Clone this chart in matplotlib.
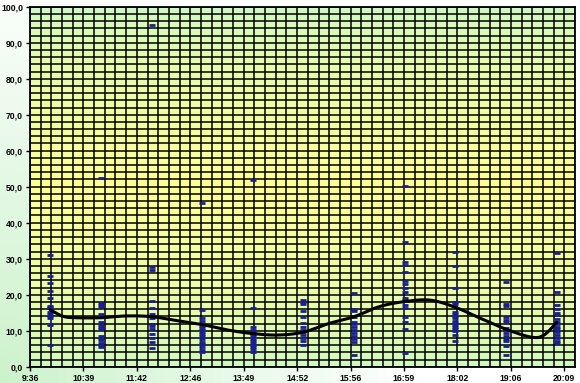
import numpy as np
import matplotlib
matplotlib.use("Agg")
import matplotlib.pyplot as plt
from matplotlib.ticker import MultipleLocator, FixedLocator, FuncFormatter

# hourly sample times (minutes after midnight) and the readings at each hour
hours = [10, 11, 12, 13, 14, 15, 16, 17, 18, 19, 20]
readings = [
    [31.0, 25.2, 23.2, 20.9, 19.2, 17.0, 16.6, 16.2, 15.2, 14.6, 14.0, 13.5, 12.0, 11.7, 5.9],
    [52.4, 17.8, 17.2, 16.6, 14.6, 12.3, 11.7, 11.0, 10.4, 8.5, 7.9, 7.3, 6.7, 6.1, 5.6],
    [95.0, 27.8, 26.8, 18.3, 16.2, 14.6, 14.0, 13.4, 11.9, 11.2, 10.6, 9.2, 8.0, 6.8, 5.2],
    [45.4, 15.8, 13.4, 12.6, 11.4, 10.8, 10.2, 9.6, 9.0, 8.4, 7.8, 7.0, 6.2, 5.4, 4.6, 4.0],
    [51.9, 16.2, 11.0, 10.2, 9.6, 9.0, 8.4, 7.8, 7.2, 6.6, 6.0, 5.4, 4.8, 4.2],
    [18.6, 18.0, 17.3, 15.5, 13.8, 12.2, 10.9, 10.3, 9.6, 8.8, 8.0, 7.2, 6.0],
    [20.4, 16.0, 15.4, 13.9, 12.4, 11.8, 11.0, 10.2, 9.4, 8.6, 7.8, 7.0, 3.3],
    [50.2, 34.7, 29.2, 28.2, 26.4, 23.8, 23.0, 21.8, 20.8, 19.0, 18.4, 17.1, 16.4, 13.7, 12.5, 10.4, 3.7],
    [31.8, 27.9, 21.8, 18.0, 17.3, 15.2, 14.6, 14.0, 13.4, 12.8, 12.2, 11.6, 11.0, 10.4, 9.8, 8.8, 7.2],
    [23.6, 17.4, 16.8, 13.7, 13.0, 12.3, 10.8, 10.1, 9.4, 8.6, 7.8, 7.2, 5.8, 3.3],
    [31.7, 20.8, 17.2, 15.9, 15.0, 14.4, 13.2, 12.5, 11.8, 11.1, 10.4, 9.6, 8.8, 8.0, 7.2, 6.5],
]

# smoothed trend
trend_t = [600, 615, 630, 660, 690, 720, 750, 780, 810, 840, 870, 900, 930, 960,
           990, 1020, 1050, 1080, 1110, 1140, 1170, 1185, 1200]
trend_v = [15.8, 14.0, 13.6, 13.6, 14.1, 13.9, 12.8, 11.7, 10.2, 9.2, 8.8, 9.6, 12.0, 13.9,
           16.7, 18.1, 18.5, 16.5, 13.4, 10.4, 8.2, 8.8, 12.3]

x_labels = ["9:36", "10:39", "11:42", "12:46", "13:49", "14:52",
            "15:56", "16:59", "18:02", "19:06", "20:09"]

x0 = 576.0
step = 63.3
xmax = x0 + 51 * step / 5


def catmull(xs, ys, n=20):
    xs = np.asarray(xs, float)
    ys = np.asarray(ys, float)
    px = np.concatenate([[2 * xs[0] - xs[1]], xs, [2 * xs[-1] - xs[-2]]])
    py = np.concatenate([[2 * ys[0] - ys[1]], ys, [2 * ys[-1] - ys[-2]]])
    outx, outy = [], []
    t = np.linspace(0, 1, n, endpoint=False)
    for i in range(1, len(px) - 2):
        for arr, out in ((px, outx), (py, outy)):
            p0, p1, p2, p3 = arr[i - 1], arr[i], arr[i + 1], arr[i + 2]
            out.extend(0.5 * (2 * p1 + (-p0 + p2) * t + (2 * p0 - 5 * p1 + 4 * p2 - p3) * t ** 2
                              + (-p0 + 3 * p1 - 3 * p2 + p3) * t ** 3))
    outx.append(xs[-1])
    outy.append(ys[-1])
    return np.array(outx), np.array(outy)


fig = plt.figure(figsize=(5.8, 3.83), dpi=100)

# figure background: soft green glow from the bottom-left corner
bg = fig.add_axes([0, 0, 1, 1], zorder=-5)
gx, gy = np.meshgrid(np.linspace(0, 580, 290), np.linspace(0, 383, 192))
r = np.sqrt(gx ** 2 + gy ** 2)
w = np.clip(1 - r / 420, 0, 1)[..., None]
green = np.array([0.80, 0.95, 0.80])
img = (1 - w) * np.ones(3) + w * green
bg.imshow(img, origin="lower", extent=[0, 1, 0, 1], aspect="auto")
bg.axis("off")

ax = fig.add_axes([30 / 580, 16.3 / 383, 545 / 580, 360 / 383])

# plot-area gradient: green at top and bottom, yellow in the middle
vals = np.linspace(0, 1, 256)
k = (1 - np.abs(vals - 0.5) * 2) ** 0.6
c_green = np.array([0.80, 0.97, 0.78])
c_yellow = np.array([1.0, 1.0, 0.60])
grad = (1 - k[:, None, None]) * c_green + k[:, None, None] * c_yellow
grad = np.repeat(grad, 2, axis=1)
ax.imshow(grad, origin="lower", extent=[x0, xmax, 0, 100], aspect="auto", zorder=0)

for h, vs in zip(hours, readings):
    ax.plot([h * 60] * len(vs), vs, linestyle="none", marker="_", markersize=4.6,
            markeredgewidth=2.0, color="#1a1f8c", zorder=3)

lx, ly = catmull(trend_t, trend_v)
ax.plot(lx, ly, color="black", linewidth=2.2, zorder=4, solid_capstyle="round")

ax.set_xlim(x0, xmax)
ax.set_ylim(0, 100)
ax.xaxis.set_major_locator(FixedLocator([x0 + i * step for i in range(11)]))
ax.xaxis.set_minor_locator(FixedLocator([x0 + j * step / 5 for j in range(52)]))
ax.yaxis.set_major_locator(MultipleLocator(10))
ax.yaxis.set_minor_locator(MultipleLocator(2))
ax.set_xticklabels(x_labels)
ax.yaxis.set_major_formatter(FuncFormatter(lambda v, p: f"{v:.1f}".replace(".", ",")))
ax.grid(True, which="both", color="black", linewidth=1.1, zorder=1)
ax.set_axisbelow(False)
for tl in ax.get_xticklabels() + ax.get_yticklabels():
    tl.set_fontfamily("Liberation Sans")
    tl.set_fontweight("bold")
    tl.set_fontsize(6.2)
ax.tick_params(which="major", length=3, width=1, color="black", pad=2)
ax.tick_params(which="minor", length=0)
for s in ax.spines.values():
    s.set_color("black")
    s.set_linewidth(1.3)

fig.savefig("out.png", dpi=100)
